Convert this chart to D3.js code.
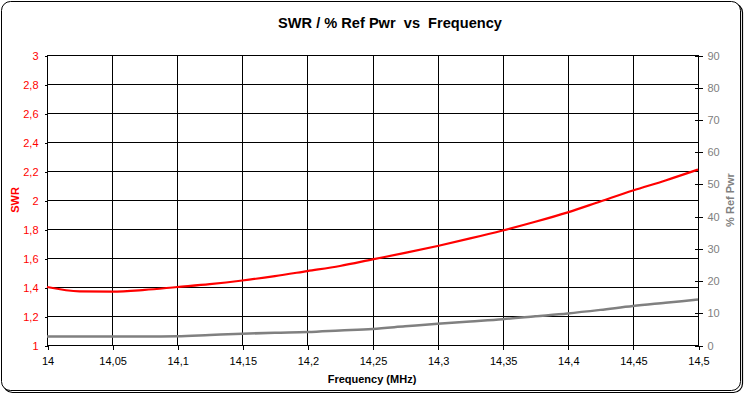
<!DOCTYPE html>
<html><head><meta charset="utf-8">
<script src="https://cdn.jsdelivr.net/npm/d3@7"></script>
<style>
html,body{margin:0;padding:0;background:#fff;}
svg{display:block;font-family:"Liberation Sans",Arial,sans-serif;}
</style></head>
<body>
<svg id="c" width="745" height="395"></svg>
<script>
const freq = [14.0,14.025,14.05,14.075,14.1,14.125,14.15,14.175,14.2,14.225,14.25,14.275,14.3,14.325,14.35,14.375,14.4,14.425,14.45,14.475,14.5];
const swr  = [1.40,1.37,1.368,1.38,1.40,1.42,1.445,1.475,1.51,1.545,1.59,1.635,1.683,1.735,1.79,1.85,1.915,1.99,2.065,2.135,2.21];
const refPwr = [2.6,2.6,2.6,2.6,2.7,3.1,3.5,3.8,4.0,4.5,5.0,5.8,6.6,7.3,8.0,8.9,9.8,10.9,12.1,13.1,14.1];
const xTicks = [14,14.05,14.1,14.15,14.2,14.25,14.3,14.35,14.4,14.45,14.5];
const leftTicks = [1,1.2,1.4,1.6,1.8,2,2.2,2.4,2.6,2.8,3];
const rightTicks = [0,10,20,30,40,50,60,70,80,90];
const title = "SWR / % Ref Pwr  vs  Frequency";
const xLabel = "Frequency (MHz)";
const leftLabel = "SWR";
const rightLabel = "% Ref Pwr";

const svg = d3.select("#c");
const L=47, R=698, T=55, B=345;
const x = d3.scaleLinear().domain([14,14.5]).range([L,R]);
const yL = d3.scaleLinear().domain([1,3]).range([B,T]);
const yR = d3.scaleLinear().domain([0,90]).range([B,T]);
const fmt = v => String(+v.toFixed(3)).replace(".", ",");

// frame with shadow
svg.append("rect").attr("x",3.5).attr("y",3.5).attr("width",739).attr("height",389).attr("rx",9)
  .attr("fill","none").attr("stroke","#000").attr("stroke-width",1.2);
svg.append("rect").attr("x",1.5).attr("y",1.5).attr("width",739).attr("height",389).attr("rx",9)
  .attr("fill","#fff").attr("stroke","#000").attr("stroke-width",1);

// grid
const g = svg.append("g").attr("shape-rendering","crispEdges");
g.selectAll(".hg").data(leftTicks).join("line")
  .attr("x1",L).attr("x2",R).attr("y1",d=>Math.round(yL(d))+0.5).attr("y2",d=>Math.round(yL(d))+0.5)
  .attr("stroke","#000");
g.selectAll(".vg").data(xTicks).join("line")
  .attr("y1",T).attr("y2",B).attr("x1",d=>Math.round(x(d))+0.5).attr("x2",d=>Math.round(x(d))+0.5)
  .attr("stroke","#000");

// axes
const axL = svg.append("g").attr("transform",`translate(${L+0.5},0.5)`)
  .call(d3.axisLeft(yL).tickValues(leftTicks).tickFormat(fmt).tickSize(3).tickPadding(6));
axL.selectAll("text").attr("fill","#ff0000").style("font-size","11px");
axL.selectAll("line,path").attr("stroke","#000").attr("shape-rendering","crispEdges");
axL.select(".domain").attr("d",`M0,${T}V${B}`);

const axR = svg.append("g").attr("transform",`translate(${R+0.5},0.5)`)
  .call(d3.axisRight(yR).tickValues(rightTicks).tickFormat(d=>d).tickSize(4).tickPadding(5));
axR.selectAll(".tick line").attr("x1",-4).attr("x2",4);
axR.selectAll("text").attr("fill","#808080").style("font-size","11px");
axR.selectAll("line,path").attr("stroke","#000").attr("shape-rendering","crispEdges");
axR.select(".domain").attr("d",`M0,${T}V${B}`);

const axB = svg.append("g").attr("transform",`translate(0.5,${B+0.5})`)
  .call(d3.axisBottom(x).tickValues(xTicks).tickFormat(fmt).tickSize(4).tickPadding(8));
axB.selectAll("text").attr("fill","#000").style("font-size","11px");
axB.selectAll("line,path").attr("stroke","#000").attr("shape-rendering","crispEdges");
axB.select(".domain").attr("d",`M${L},0H${R}`);

// lines
const lineL = d3.line().x((d,i)=>x(freq[i])).y(d=>yL(d)).curve(d3.curveMonotoneX);
const lineR = d3.line().x((d,i)=>x(freq[i])).y(d=>yR(d)).curve(d3.curveMonotoneX);
svg.append("path").datum(refPwr).attr("d",lineR).attr("fill","none").attr("stroke","#808080").attr("stroke-width",2.5);
svg.append("path").datum(swr).attr("d",lineL).attr("fill","none").attr("stroke","#ff0000").attr("stroke-width",2.2);

// texts
svg.append("text").attr("x",390).attr("y",28).attr("text-anchor","middle")
  .style("font-size","14.6px").style("font-weight","bold").style("white-space","pre").attr("xml:space","preserve").text(title);
svg.append("text").attr("x",372).attr("y",383).attr("text-anchor","middle")
  .style("font-size","11px").style("font-weight","bold").text(xLabel);
svg.append("text").attr("transform","translate(19,200) rotate(-90)").attr("text-anchor","middle")
  .attr("fill","#ff0000").style("font-size","11px").style("font-weight","bold").text(leftLabel);
svg.append("text").attr("transform","translate(734,200) rotate(-90)").attr("text-anchor","middle")
  .attr("fill","#808080").style("font-size","11px").style("font-weight","bold").text(rightLabel);
</script>
</body></html>
